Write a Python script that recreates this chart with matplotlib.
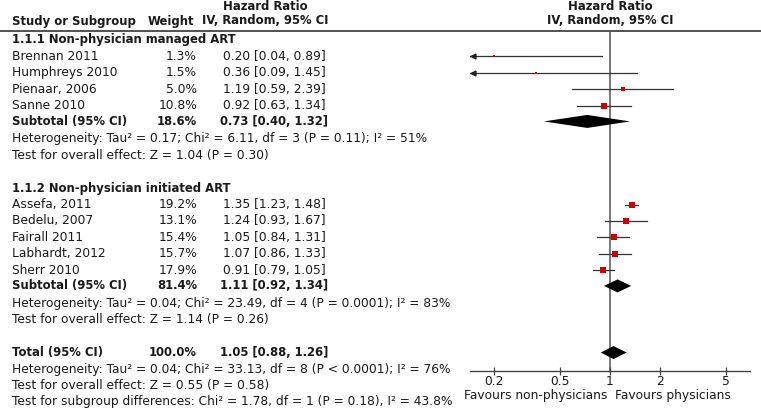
import numpy as np
import matplotlib
matplotlib.use('Agg')
from matplotlib import pyplot as plt

# ---- data ----
group_titles = ['1.1.1 Non-physician managed ART', '1.1.2 Non-physician initiated ART']

studies_1 = ['Brennan 2011', 'Humphreys 2010', 'Pienaar, 2006', 'Sanne 2010']
weights_1 = [1.3, 1.5, 5.0, 10.8]
hr_1 = [0.20, 0.36, 1.19, 0.92]
lo_1 = [0.04, 0.09, 0.59, 0.63]
hi_1 = [0.89, 1.45, 2.39, 1.34]

studies_2 = ['Assefa, 2011', 'Bedelu, 2007', 'Fairall 2011', 'Labhardt, 2012', 'Sherr 2010']
weights_2 = [19.2, 13.1, 15.4, 15.7, 17.9]
hr_2 = [1.35, 1.24, 1.05, 1.07, 0.91]
lo_2 = [1.23, 0.93, 0.84, 0.86, 0.79]
hi_2 = [1.48, 1.67, 1.31, 1.33, 1.05]

sub_weights = [18.6, 81.4]
sub_hr = [0.73, 1.11]
sub_lo = [0.40, 0.92]
sub_hi = [1.32, 1.34]
sub_het = ['Heterogeneity: Tau\u00b2 = 0.17; Chi\u00b2 = 6.11, df = 3 (P = 0.11); I\u00b2 = 51%',
           'Heterogeneity: Tau\u00b2 = 0.04; Chi\u00b2 = 23.49, df = 4 (P = 0.0001); I\u00b2 = 83%']
sub_test = ['Test for overall effect: Z = 1.04 (P = 0.30)',
            'Test for overall effect: Z = 1.14 (P = 0.26)']

total_weight = 100.0
total_hr = 1.05
total_lo = 0.88
total_hi = 1.26
total_notes = ['Heterogeneity: Tau\u00b2 = 0.04; Chi\u00b2 = 33.13, df = 8 (P < 0.0001); I\u00b2 = 76%',
               'Test for overall effect: Z = 0.55 (P = 0.58)',
               'Test for subgroup differences: Chi\u00b2 = 1.78, df = 1 (P = 0.18), I\u00b2 = 43.8%']

tick_vals = [0.2, 0.5, 1, 2, 5]
tick_labels = ['0.2', '0.5', '1', '2', '5']

# ---- style (pixel layout) ----
W, H = 761, 413
ROW0, ROWH = 40.0, 16.45
X_NAME, X_WEIGHT, X_EFFECT = 12, 197, 274
PLOT_L, PLOT_R, PLOT_TOP, PLOT_BOT = 470, 750, 31, 371
X_ONE, DECADE = 610, 166
FS = 8.8      # regular text
FSB = 8.4     # bold text (DejaVu bold runs wide)
TXT = '#1a1a1a'

plt.rcParams['font.family'] = ['DejaVu Sans']

fig = plt.figure(figsize=(W / 100, H / 100), dpi=100)
tax = fig.add_axes([0, 0, 1, 1])
tax.set_xlim(0, W)
tax.set_ylim(H, 0)
tax.axis('off')

fax = fig.add_axes([PLOT_L / W, (H - PLOT_BOT) / H, (PLOT_R - PLOT_L) / W, (PLOT_BOT - PLOT_TOP) / H])
fax.set_xscale('log')
xmin = 10 ** ((PLOT_L - X_ONE) / DECADE)
xmax = 10 ** ((PLOT_R - X_ONE) / DECADE)
fax.set_xlim(xmin, xmax)
fax.set_ylim(PLOT_BOT, PLOT_TOP)
fax.patch.set_alpha(0)
for s in ['top', 'left', 'right']:
    fax.spines[s].set_visible(False)
fax.spines['bottom'].set_color('#444444')
fax.spines['bottom'].set_linewidth(1.0)
fax.set_yticks([])
fax.set_xticks(tick_vals)
fax.set_xticklabels(tick_labels)
fax.minorticks_off()
fax.tick_params(axis='x', direction='inout', length=6, width=0.9, color='#444444',
                labelsize=FS, labelcolor=TXT, pad=0)
fax.axvline(1, color='#555555', lw=1.1, zorder=1)


def row_y(r):
    return ROW0 + ROWH * r


def put(x, y, s, ha='left', bold=False):
    tax.text(x, y, s, ha=ha, va='center', color=TXT,
             fontsize=FSB if bold else FS,
             fontweight='bold' if bold else 'normal')


def effect_str(h, l, u):
    return '%.2f [%.2f, %.2f]' % (h, l, u)


def study_mark(r, w, h, l, u):
    y = row_y(r)
    left = max(l, xmin)
    fax.plot([left, min(u, xmax)], [y, y], color='#333333', lw=0.9, zorder=2)
    if l < xmin:
        fax.plot([xmin * 1.04], [y], marker='<', color='#222222', markersize=3.5, zorder=3)
    side = 1.5 + 4.8 * np.sqrt(w / 19.2)
    fax.plot([h], [y], marker='s', color='#cc0000', markersize=side / 1.39,
             markeredgewidth=0, zorder=4)


def diamond(r, h, l, u):
    y = row_y(r)
    hh = 6.5
    fax.fill([l, h, u, h], [y, y - hh, y, y + hh], color='black', zorder=4, lw=0)


# header
put(265, 6, 'Hazard Ratio', ha='center', bold=True)
put(265, 21, 'IV, Random, 95% CI', ha='center', bold=True)
put(X_NAME, 21, 'Study or Subgroup', bold=True)
put(194, 21, 'Weight', ha='right', bold=True)
put(X_ONE, 6, 'Hazard Ratio', ha='center', bold=True)
put(X_ONE, 21, 'IV, Random, 95% CI', ha='center', bold=True)
tax.plot([0, W], [31, 31], color='#333333', lw=1.2)

groups = [(studies_1, weights_1, hr_1, lo_1, hi_1), (studies_2, weights_2, hr_2, lo_2, hi_2)]
r = 0
for g, (names, ws, hs, ls, us) in enumerate(groups):
    put(X_NAME, row_y(r), group_titles[g], bold=True)
    r += 1
    for name, w, h, l, u in zip(names, ws, hs, ls, us):
        put(X_NAME, row_y(r), name)
        put(X_WEIGHT, row_y(r), '%.1f%%' % w, ha='right')
        put(X_EFFECT, row_y(r), effect_str(h, l, u), ha='center')
        study_mark(r, w, h, l, u)
        r += 1
    r -= 0.05
    put(X_NAME, row_y(r), 'Subtotal (95% CI)', bold=True)
    put(X_WEIGHT, row_y(r), '%.1f%%' % sub_weights[g], ha='right', bold=True)
    put(X_EFFECT, row_y(r), effect_str(sub_hr[g], sub_lo[g], sub_hi[g]), ha='center', bold=True)
    diamond(r, sub_hr[g], sub_lo[g], sub_hi[g])
    r += 1.05
    put(X_NAME, row_y(r), sub_het[g])
    r += 1
    put(X_NAME, row_y(r), sub_test[g])
    r += 2

put(X_NAME, row_y(r), 'Total (95% CI)', bold=True)
put(X_WEIGHT, row_y(r), '%.1f%%' % total_weight, ha='right', bold=True)
put(X_EFFECT, row_y(r), effect_str(total_hr, total_lo, total_hi), ha='center', bold=True)
diamond(r, total_hr, total_lo, total_hi)
for note in total_notes:
    r += 1
    put(X_NAME, row_y(r), note)

put(607, 396, 'Favours non-physicians', ha='right')
put(615, 396, 'Favours physicians')

fig.savefig('out.png', dpi=100)
